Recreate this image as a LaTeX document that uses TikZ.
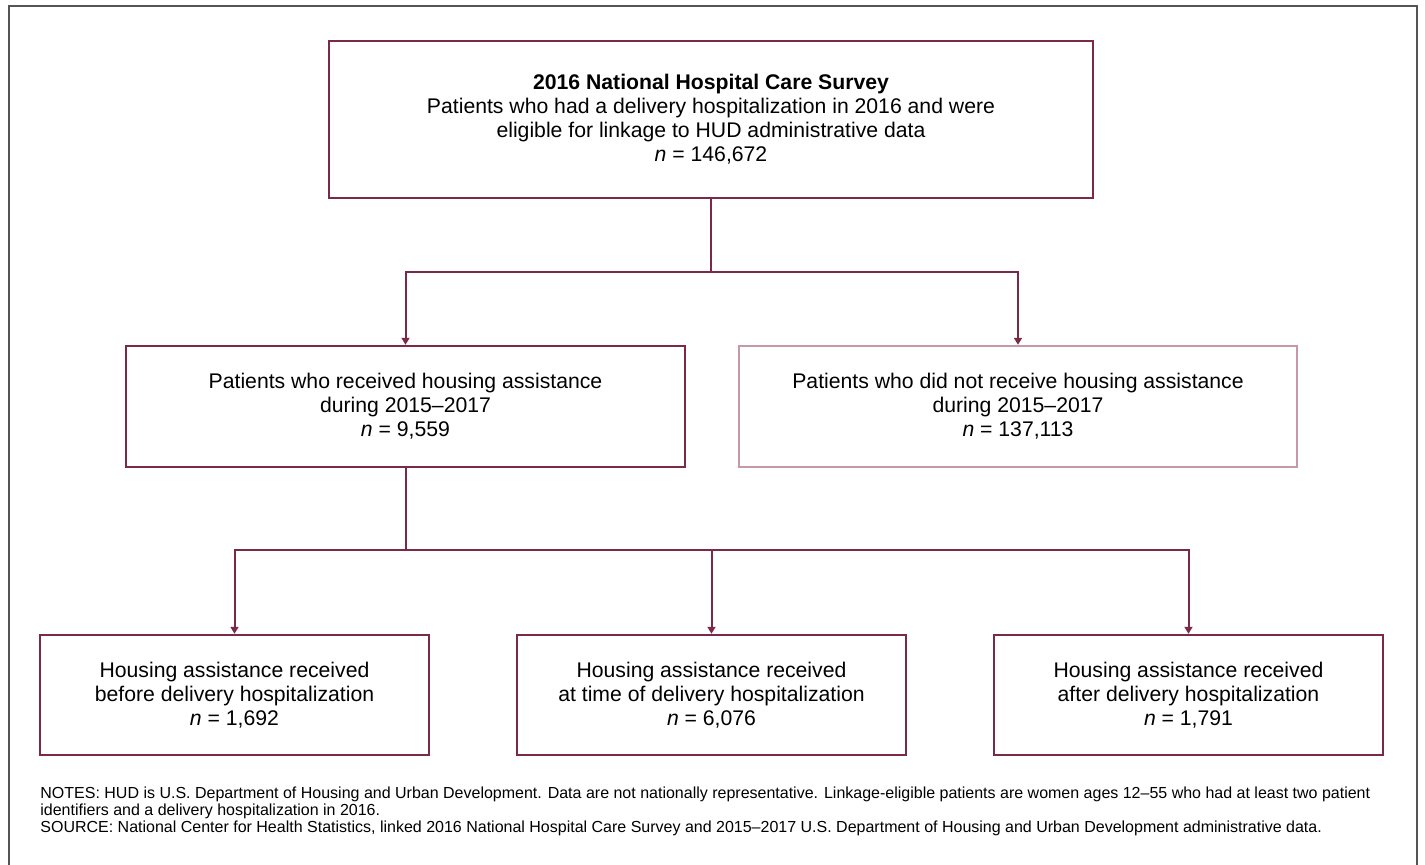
\documentclass[tikz,border=0pt]{standalone}
\usepackage{fontspec}
\setmainfont{Liberation Sans}
\usetikzlibrary{arrows.meta}
\definecolor{boxred}{RGB}{122,41,72}
\definecolor{boxpink}{RGB}{198,152,168}
\definecolor{framegray}{RGB}{85,85,85}
\begin{document}
\begin{tikzpicture}[x=0.5pt,y=-0.5pt,
  box/.style={draw=boxred,line width=1.2pt,align=center,inner sep=0pt,
    font=\fontsize{10.6}{12}\selectfont},
  softbox/.style={box,draw=boxpink},
  link/.style={draw=boxred,line width=1pt},
  tip/.style={link,-{Triangle[length=3.5pt,width=4pt]}}]
\useasboundingbox (0,0) rectangle (1425,865);
\draw[framegray,line width=1pt] (9,865) -- (9,6) -- (1417,6) -- (1417,865);
% survey box
\node[box,minimum width=382pt,minimum height=78.5pt] (survey) at (711,119.5)
  {\textbf{2016 National Hospital Care Survey}\\
   Patients who had a delivery hospitalization in 2016 and were\\
   eligible for linkage to HUD administrative data\\
   \textit{n} = 146,672};
% second row
\node[box,minimum width=279.5pt,minimum height=60.5pt] (recv) at (405.5,406.5)
  {Patients who received housing assistance\\ during 2015–2017\\ \textit{n} = 9,559};
\node[softbox,minimum width=279pt,minimum height=60.5pt] (norecv) at (1018,406.5)
  {Patients who did not receive housing assistance\\ during 2015–2017\\ \textit{n} = 137,113};
% third row
\node[box,minimum width=194.5pt,minimum height=60pt] (before) at (234.5,695)
  {Housing assistance received\\ before delivery hospitalization\\ \textit{n} = 1,692};
\node[box,minimum width=194.5pt,minimum height=60pt] (attime) at (711.5,695)
  {Housing assistance received\\ at time of delivery hospitalization\\ \textit{n} = 6,076};
\node[box,minimum width=194.5pt,minimum height=60pt] (after) at (1188.5,695)
  {Housing assistance received\\ after delivery hospitalization\\ \textit{n} = 1,791};
% connectors
\coordinate (fork1) at (711,272);
\coordinate (fork2) at (405.5,550);
\draw[link] (survey.south) -- (fork1);
\draw[tip] (fork1) -| (recv.north);
\draw[tip] (fork1) -| (norecv.north);
\draw[link] (recv.south) -- (fork2);
\draw[tip] (fork2) -| (before.north);
\draw[tip] (fork2) -| (attime.north);
\draw[tip] (fork2) -| (after.north);
% notes
\node[anchor=north west,align=left,inner sep=0pt,font=\fontsize{8}{8.4}\selectfont] (notes) at (40,787)
  {NOTES: HUD is U.S. Department of Housing and Urban Development. Data are not nationally representative. Linkage-eligible patients are women ages 12–55 who had at least two patient\\
   identifiers and a delivery hospitalization in 2016.\\
   SOURCE: National Center for Health Statistics, linked 2016 National Hospital Care Survey and 2015–2017 U.S. Department of Housing and Urban Development administrative data.};
\end{tikzpicture}
\end{document}
